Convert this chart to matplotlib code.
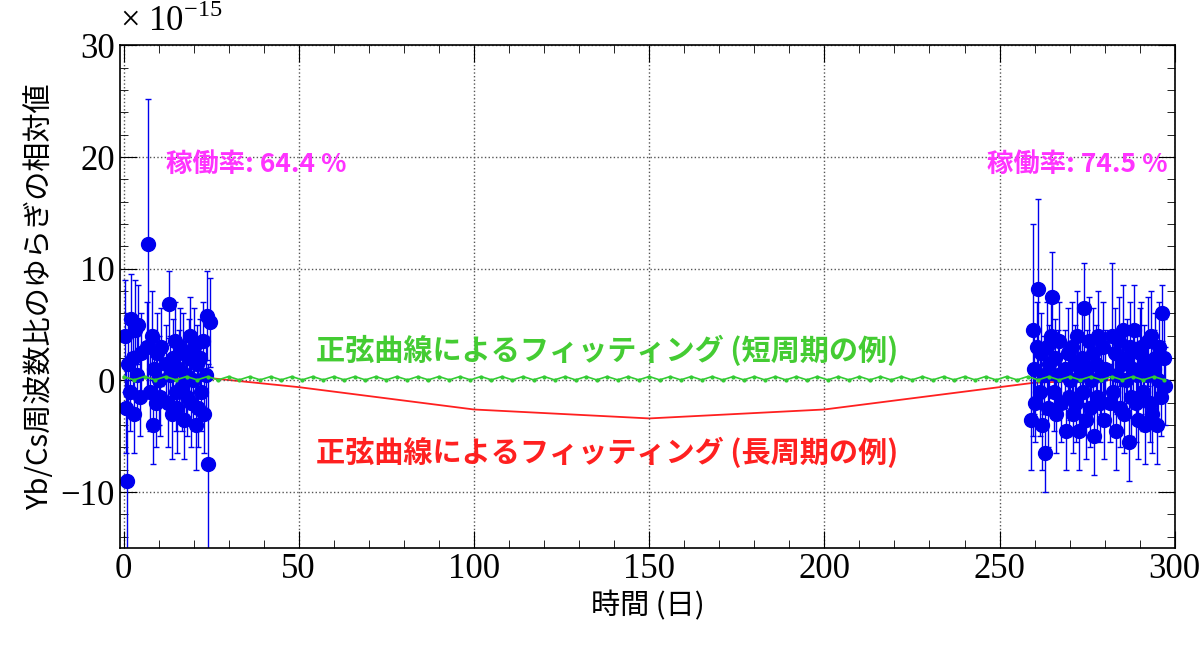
import matplotlib
matplotlib.use("Agg")
import matplotlib.pyplot as plt
from matplotlib.ticker import MultipleLocator

plt.rcParams['font.family'] = ['Noto Sans CJK JP', 'DejaVu Sans']

left_x = [0.3,0.6,0.9,1.4,1.8,2.2,2.6,3.0,3.4,3.8,4.2,4.6,5.0,
          6.8,7.1,7.6,8.0,8.4,8.8,9.2,9.6,10.0,10.4,10.8,
          12.2,12.6,13.0,13.4,13.8,14.2,14.6,15.0,15.4,15.8,16.2,16.6,17.0,17.4,17.8,
          18.2,18.6,19.0,19.4,19.8,20.2,20.6,21.0,21.4,21.8,22.2,22.6,23.0,23.4,23.8,24.2,24.6]
left_y = [4.0,-2.5,-9.0,1.5,-1.0,5.5,2.0,-3.0,4.5,0.5,5.0,-1.5,2.5,
          3.0,12.2,-1.0,4.0,-4.0,1.0,-2.0,2.5,0.0,-1.5,3.0,
          1.5,-2.0,6.8,0.5,-3.0,2.0,3.5,-1.0,-2.5,1.0,3.0,-0.5,2.5,-3.5,0.5,
          -1.5,2.0,4.0,-2.0,0.0,3.0,-4.0,1.5,-2.5,2.0,-1.0,3.5,-3.0,0.5,5.8,-7.5,5.2]
left_e = [5.0,4.0,9.0,4.5,3.5,4.0,3.5,3.5,4.5,3.5,3.5,3.5,3.5,
          4.0,13.0,3.5,4.0,3.5,3.5,4.0,3.5,4.0,3.5,3.5,
          3.5,4.0,3.0,3.5,4.0,3.5,3.5,3.5,4.0,3.5,3.5,4.0,3.5,3.5,3.5,
          3.5,3.5,3.5,4.0,3.5,3.5,4.0,3.5,3.5,3.5,3.5,3.5,3.5,3.5,4.0,9.0,4.0]

right_x = [259.0,259.4,259.8,260.2,260.6,261.0,261.4,261.8,262.2,262.6,263.0,263.4,263.8,264.2,264.6,265.0,265.4,265.8,266.2,266.6,267.0,267.4,
           268.6,269.0,269.4,269.8,270.2,270.6,271.0,271.4,271.8,272.2,272.6,273.0,273.4,273.8,274.2,274.6,275.0,275.4,275.8,276.2,276.6,277.0,277.4,277.8,278.2,278.6,279.0,279.4,279.8,280.2,
           281.6,282.0,282.4,282.8,283.2,283.6,284.0,284.4,284.8,285.2,285.6,286.0,286.4,286.8,287.2,287.6,288.0,288.4,288.8,289.2,289.6,290.0,290.4,290.8,291.2,291.6,292.0,292.4,292.8,293.2,293.6,294.0,294.4,294.8,295.2,295.6,296.0,296.4,296.8,297.2]
right_y = [-3.5,4.5,1.0,-2.0,3.0,8.2,-1.0,2.5,-4.0,0.5,-6.5,3.0,-2.5,1.5,4.0,7.5,-1.0,2.0,-3.0,0.5,3.5,-2.0,
           1.0,-4.5,2.5,-1.5,0.0,3.0,-3.0,1.5,-2.0,4.0,-4.5,0.5,2.0,-1.0,6.5,-3.5,1.0,3.5,-2.5,0.0,2.5,-5.0,1.5,-1.5,4.0,-2.0,0.5,3.0,-3.5,1.0,
           -2.0,4.0,-1.0,2.5,-4.5,0.5,3.5,-2.5,1.5,4.5,-3.0,0.0,2.0,-5.5,3.0,-1.5,1.0,4.5,-2.0,0.5,-3.5,2.5,3.0,-1.0,1.5,-4.0,0.5,3.5,-2.0,4.0,-3.0,1.0,2.0,-4.0,0.0,3.0,-1.5,6.0,2.0,-0.5]
right_e = [4.5,9.5,4.0,3.5,4.0,8.0,4.0,3.5,4.0,3.5,3.5,4.0,3.5,3.5,4.0,4.0,3.5,3.5,3.5,4.0,3.5,3.5,
           3.5,3.5,4.0,3.5,3.5,4.0,3.5,3.5,3.5,4.0,3.5,3.5,4.0,3.5,4.0,3.5,3.5,4.0,3.5,3.5,4.0,3.5,3.5,3.5,4.0,3.5,3.5,4.0,3.5,3.5,
           3.5,6.5,3.5,4.0,3.5,3.5,4.0,3.5,3.5,4.0,3.5,3.5,3.5,3.5,4.0,3.5,3.5,4.0,3.5,3.5,3.5,4.0,4.0,3.5,3.5,3.5,3.5,4.0,3.5,4.0,3.5,3.5,4.0,3.5,3.5,4.0,3.5,2.5,3.5,3.5]

long_x = [0, 25, 50, 100, 150, 200, 260, 297]
long_y = [0.2, 0.2, -0.6, -2.6, -3.4, -2.6, -0.2, 0.2]
short_x = [i * 3 for i in range(100)]
short_y = [0.35, 0.05] * 50

fig = plt.figure(figsize=(12, 6.47), dpi=100)
ax = fig.add_axes([0.1, 0.153, 0.879, 0.777])

ax.plot(long_x, long_y, color='#ff2020', lw=1.3, zorder=1)
ax.errorbar(left_x + right_x, left_y + right_y, yerr=left_e + right_e, fmt='o', color='#0000ee',
            ms=10, elinewidth=1, capsize=2, zorder=2)
ax.plot(short_x, short_y, color='#33cc33', lw=1.2, marker='o', ms=2, zorder=3)

ax.set_xlim(-1, 300)
ax.set_ylim(-15, 30)
ax.xaxis.set_major_locator(MultipleLocator(50))
ax.xaxis.set_minor_locator(MultipleLocator(10))
ax.yaxis.set_major_locator(MultipleLocator(10))
ax.yaxis.set_minor_locator(MultipleLocator(2))
ax.tick_params(which='both', direction='in', top=True, right=True)
ax.tick_params(which='major', length=12, labelsize=25)
ax.tick_params(which='minor', length=6)
ax.set_yticks([-10, 0, 10, 20, 30])
ax.set_yticklabels(['−10', '0', '10', '20', '30'])
for lab in ax.get_xticklabels() + ax.get_yticklabels():
    lab.set_family(['Liberation Serif'])
ax.grid(True, which='major', linestyle=':', color='#555555', lw=1)
for s in ax.spines.values():
    s.set_linewidth(1.2)

fig.text(0.1, 0.967, '× 10$^{\\mathregular{-15}}$', fontsize=25, family='Liberation Serif', va='center')
ax.set_xlabel('時間 (日)', fontsize=21)
ax.set_ylabel('Yb/Cs周波数比のゆらぎの相対値', fontsize=21)

ax.text(12, 19.3, '稼働率: 64.4 %', color='#ff33ff', fontsize=19, fontweight='bold', va='center')
ax.text(298, 19.3, '稼働率: 74.5 %', color='#ff33ff', fontsize=19, fontweight='bold', va='center', ha='right')
ax.text(138, 2.7, '正弦曲線によるフィッティング (短周期の例)', color='#44cc33', fontsize=21, fontweight='bold', ha='center', va='center')
ax.text(138, -6.4, '正弦曲線によるフィッティング (長周期の例)', color='#ff2020', fontsize=21, fontweight='bold', ha='center', va='center')

fig.savefig('out.png', dpi=100)
